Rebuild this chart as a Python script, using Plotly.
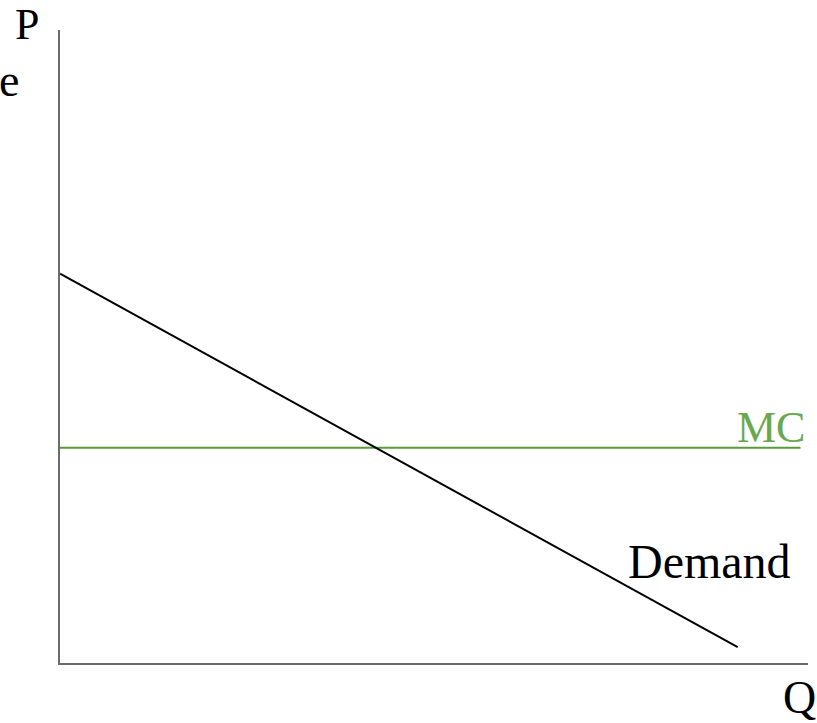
import plotly.graph_objects as go

# Data (economic units)
demand_q = [0.0, 9.06]
demand_p = [6.15, 0.25]
mc_q = [0.0, 9.9]
mc_p = [3.4, 3.4]

W, H = 817, 723
ML, MR, MT, MB = 60, 9, 30, 60

fig = go.Figure()
fig.add_trace(go.Scatter(x=mc_q, y=mc_p, mode="lines",
                         line=dict(color="#5A9A3C", width=2), hoverinfo="skip"))
fig.add_trace(go.Scatter(x=demand_q, y=demand_p, mode="lines",
                         line=dict(color="black", width=2), hoverinfo="skip"))

font = "Liberation Serif, Times New Roman, serif"

def px(xp, yp):
    return (xp - ML) / (W - ML - MR), (H - MB - yp) / (H - MT - MB)

labels = [
    ("P", 27, 25, "black", 44),
    ("e", 9, 80, "black", 46),
    ("Q", 799, 697, "black", 46),
    ("Demand", 709, 561, "black", 48),
    ("MC", 771, 427, "#6AA84F", 44),
]
anns = []
for t, x, y, c, s in labels:
    xp, yp = px(x, y)
    anns.append(dict(text=t, x=xp, y=yp, xref="paper", yref="paper",
                     xanchor="center", yanchor="middle", showarrow=False,
                     font=dict(family=font, size=s, color=c)))

fig.update_layout(
    width=W, height=H, margin=dict(l=ML, r=MR, t=MT, b=MB),
    paper_bgcolor="white", plot_bgcolor="white", showlegend=False,
    annotations=anns,
    xaxis=dict(range=[0, 10], showline=True, linecolor="#6b6b6b", linewidth=2,
               showgrid=False, zeroline=False, showticklabels=False, ticks=""),
    yaxis=dict(range=[0, 10], showline=True, linecolor="#6b6b6b", linewidth=2,
               showgrid=False, zeroline=False, showticklabels=False, ticks=""),
)
fig.write_html("out.html", config={"displayModeBar": False},
               post_script="document.body.style.margin='0';document.body.style.overflow='hidden';")
